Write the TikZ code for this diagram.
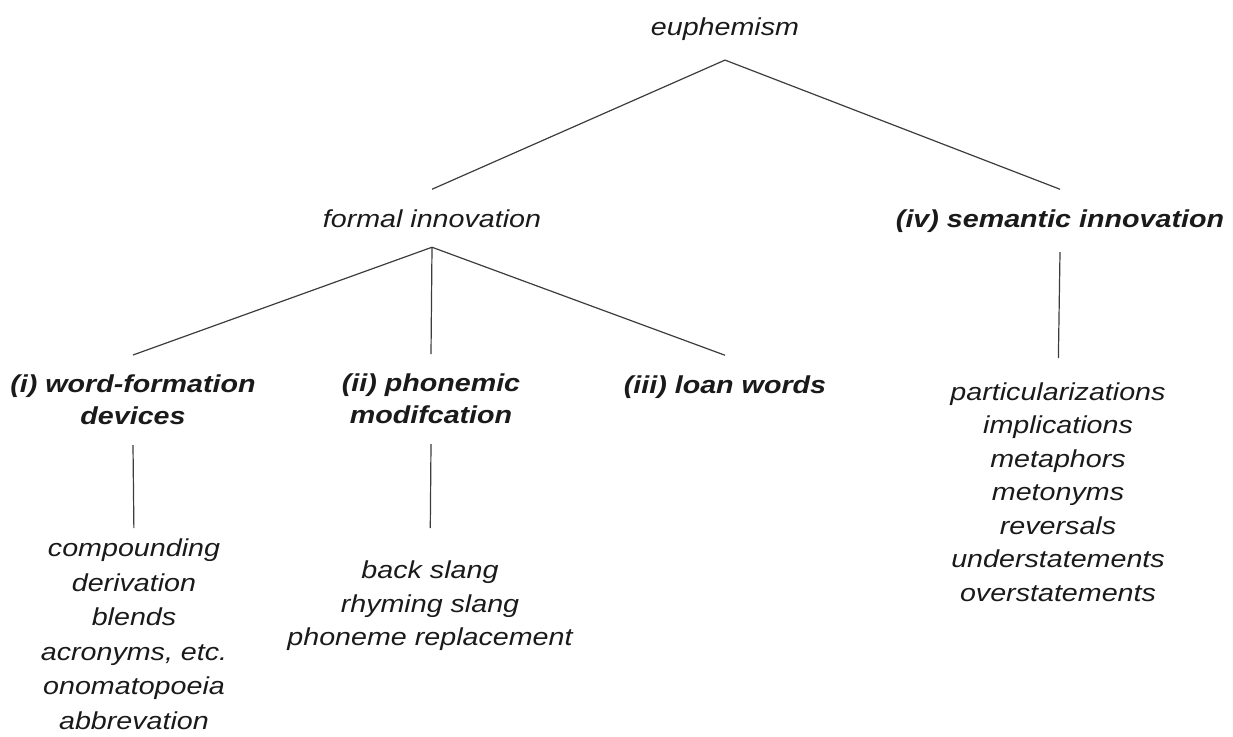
\documentclass[tikz,border=0pt]{standalone}
\usepackage{fontspec}
\setmainfont{Liberation Sans}[FakeStretch=1.17]
\usepackage{tikz}
\usetikzlibrary{positioning}
\definecolor{InkGrey}{HTML}{1A1A1A}
\definecolor{LineGrey}{HTML}{3C3C3C}
\tikzset{
  head/.style={font=\fontsize{24.5}{32}\selectfont\bfseries\itshape, text=InkGrey, inner sep=0pt, outer ysep=20pt, align=center},
  plainhead/.style={head, font=\fontsize{24.5}{32}\selectfont\itshape},
  items/.style={font=\fontsize{24.5}{33.5}\selectfont\itshape, text=InkGrey, inner sep=0pt, align=center},
  branch/.style={LineGrey, line width=1.2pt}
}

\begin{document}
\begin{tikzpicture}[x=1pt, y=-1pt]
\useasboundingbox (0,0) rectangle (1233,736);
\node[plainhead, anchor=base] (euph) at (725,35) {euphemism};
\node[plainhead, anchor=base] (formal) at (432,227) {formal innovation};
\node[head, anchor=base] (semantic) at (1060,227) {(iv) semantic innovation};
\node[head, anchor=north] (wordform) at (133,355) {(i) word-formation\\devices};
\node[head, anchor=north] (phonemic) at (431,354) {(ii) phonemic\\modifcation};
\node[head, anchor=base] (loan) at (725,393) {(iii) loan words};
\node[items, anchor=north, font=\fontsize{24.5}{34.5}\selectfont\itshape] (wordlist) at (134,539) {compounding\\derivation\\blends\\acronyms, etc.\\onomatopoeia\\abbrevation};
\node[items, anchor=north] (phonlist) at (430,561) {back slang\\rhyming slang\\phoneme replacement};
\node[items, anchor=north] (semlist) at (1058,382.5) {particularizations\\implications\\metaphors\\metonyms\\reversals\\understatements\\overstatements};
% tree
\draw[branch] (formal.north) -- (euph.south) -- (semantic.north);
\draw[branch] (wordform.north) -- (formal.south) -- (loan.north);
\draw[branch] (formal.south) -- (phonemic.north);
\draw[branch, shorten >=24.5pt] (semantic.south) -- (semlist.north);
\draw[branch, shorten >=11pt] (wordform.south) -- (wordlist.north);
\draw[branch, shorten >=33pt] (phonemic.south) -- (phonlist.north);
\end{tikzpicture}
\end{document}
